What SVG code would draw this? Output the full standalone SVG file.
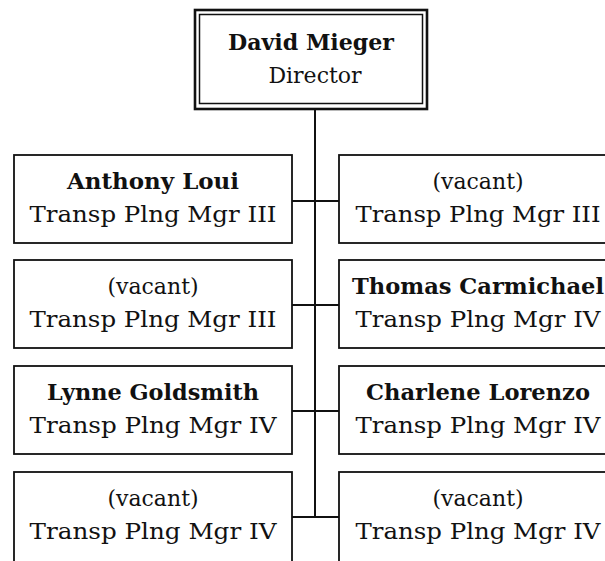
<svg xmlns="http://www.w3.org/2000/svg" width="605" height="561" viewBox="0 0 605 561">
<style>
.box{fill:#fff;stroke:#111;stroke-width:1.8}
.outer{fill:#fff;stroke:#111;stroke-width:2.6}
.inner{fill:none;stroke:#111;stroke-width:1.5}
.conn{stroke:#111;stroke-width:2;fill:none}
text{font-family:"DejaVu Serif","Liberation Serif",serif;font-size:22px;fill:#111;text-anchor:middle}
.name{font-weight:bold}
</style>
<rect width="605" height="561" fill="#fff"/>
<g id="connectors">
<line class="conn" x1="315" y1="109" x2="315" y2="517"/>
<line class="conn" x1="292" y1="201" x2="339" y2="201"/>
<line class="conn" x1="292" y1="305" x2="339" y2="305"/>
<line class="conn" x1="292" y1="411" x2="339" y2="411"/>
<line class="conn" x1="292" y1="517" x2="339" y2="517"/>
</g>
<g id="director">
<rect class="outer" x="195" y="10" width="232" height="99"/>
<rect class="inner" x="199.5" y="14.5" width="223" height="89"/>
<text class="name" x="311" y="50" textLength="166" lengthAdjust="spacingAndGlyphs">David Mieger</text>
<text x="315" y="83">Director</text>
</g>
<g id="anthony">
<rect class="box" x="14" y="155" width="278" height="88"/>
<text class="name" x="153" y="189" textLength="172" lengthAdjust="spacingAndGlyphs">Anthony Loui</text>
<text x="153" y="222" textLength="247" lengthAdjust="spacingAndGlyphs">Transp Plng Mgr III</text>
</g>
<g id="vacant1">
<rect class="box" x="339" y="155" width="278" height="88"/>
<text x="478" y="189">(vacant)</text>
<text x="478" y="222" textLength="245" lengthAdjust="spacingAndGlyphs">Transp Plng Mgr III</text>
</g>
<g id="vacant2">
<rect class="box" x="14" y="260" width="278" height="88"/>
<text x="153" y="294">(vacant)</text>
<text x="153" y="327" textLength="247" lengthAdjust="spacingAndGlyphs">Transp Plng Mgr III</text>
</g>
<g id="thomas">
<rect class="box" x="339" y="260" width="278" height="88"/>
<text class="name" x="478" y="294" textLength="252" lengthAdjust="spacingAndGlyphs">Thomas Carmichael</text>
<text x="478" y="327" textLength="245" lengthAdjust="spacingAndGlyphs">Transp Plng Mgr IV</text>
</g>
<g id="lynne">
<rect class="box" x="14" y="366" width="278" height="88"/>
<text class="name" x="153" y="400" textLength="212" lengthAdjust="spacingAndGlyphs">Lynne Goldsmith</text>
<text x="153" y="433" textLength="247" lengthAdjust="spacingAndGlyphs">Transp Plng Mgr IV</text>
</g>
<g id="charlene">
<rect class="box" x="339" y="366" width="278" height="88"/>
<text class="name" x="478" y="400" textLength="224" lengthAdjust="spacingAndGlyphs">Charlene Lorenzo</text>
<text x="478" y="433" textLength="245" lengthAdjust="spacingAndGlyphs">Transp Plng Mgr IV</text>
</g>
<g id="vacant3">
<rect class="box" x="14" y="472" width="278" height="100"/>
<text x="153" y="506">(vacant)</text>
<text x="153" y="539" textLength="247" lengthAdjust="spacingAndGlyphs">Transp Plng Mgr IV</text>
</g>
<g id="vacant4">
<rect class="box" x="339" y="472" width="278" height="100"/>
<text x="478" y="506">(vacant)</text>
<text x="478" y="539" textLength="245" lengthAdjust="spacingAndGlyphs">Transp Plng Mgr IV</text>
</g>
</svg>
